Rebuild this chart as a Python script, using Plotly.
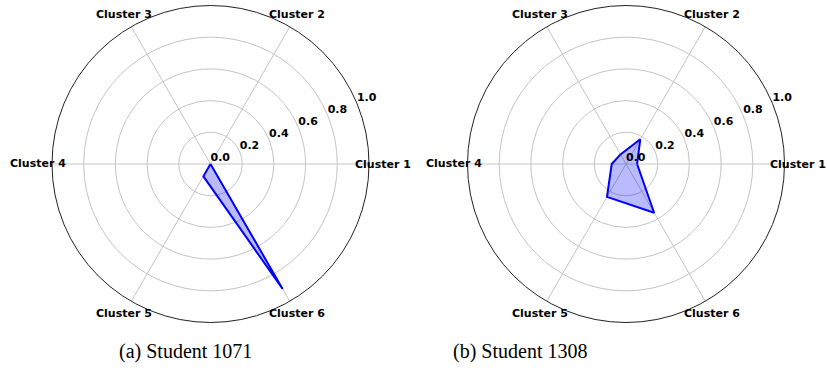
import math
import plotly.graph_objects as go

categories = ["Cluster 1", "Cluster 2", "Cluster 3", "Cluster 4", "Cluster 5", "Cluster 6"]
angles = [0, 60, 120, 180, 240, 300]
student_1071 = [0.0, 0.0, 0.0, 0.0, 0.09, 0.91]
student_1308 = [0.07, 0.18, 0.07, 0.09, 0.24, 0.355]
radial_ticks = [0.0, 0.2, 0.4, 0.6, 0.8, 1.0]
captions = ["(a) Student 1071", "(b) Student 1308"]

W, H = 827, 377
# polar areas in pixels: (x0, x1, y0_top, y1_bottom)
areas = [(52, 369, 5.5, 322.5), (467.5, 784.5, 5.5, 322.5)]
caption_x = [185, 520]
caption_y = 351
label_r = 1.088  # theta labels sit just outside the rim (in radial data units)

fig = go.Figure()
series = [student_1071, student_1308]
polars = ["polar", "polar2"]
annotations = []
for vals, pid, area in zip(series, polars, areas):
    fig.add_trace(go.Scatterpolar(
        r=vals + [vals[0]], theta=angles + [angles[0]],
        mode="lines", fill="toself",
        line=dict(color="#0000ff", width=2),
        fillcolor="rgba(0,0,255,0.27)",
        subplot=pid, showlegend=False, hoverinfo="skip"))
    fig.add_trace(go.Scatterpolar(
        r=radial_ticks, theta=[22.5] * len(radial_ticks),
        mode="text", text=["<b>%.1f</b>" % v for v in radial_ticks],
        textposition="top right",
        textfont=dict(family="DejaVu Sans", size=11, color="black"),
        cliponaxis=False, subplot=pid, showlegend=False, hoverinfo="skip"))
    x0, x1, y0, y1 = area
    cx, cy, R = (x0 + x1) / 2, (y0 + y1) / 2, (x1 - x0) / 2
    for cat, ang in zip(categories, angles):
        a = math.radians(ang)
        px = cx + label_r * R * math.cos(a)
        py = cy - label_r * R * math.sin(a)
        annotations.append(dict(
            text="<b>%s</b>" % cat, x=px / W, y=1 - py / H,
            xref="paper", yref="paper", xanchor="center", yanchor="middle",
            showarrow=False, font=dict(family="DejaVu Sans", size=11, color="black")))

def polar_layout(area):
    x0, x1, y0, y1 = area
    return dict(
        domain=dict(x=[x0 / W, x1 / W], y=[1 - y1 / H, 1 - y0 / H]),
        bgcolor="white",
        radialaxis=dict(range=[0, 1], tickvals=radial_ticks[1:], showticklabels=False,
                        ticks="", showline=False, gridcolor="#c4c4c4", gridwidth=1),
        angularaxis=dict(tickvals=angles, showticklabels=False, ticks="",
                         direction="counterclockwise", rotation=0,
                         gridcolor="#c4c4c4", gridwidth=1,
                         showline=True, linecolor="#222222", linewidth=1),
    )

for cap, x in zip(captions, caption_x):
    annotations.append(dict(
        text=cap, x=x / W, y=1 - caption_y / H, xref="paper", yref="paper",
        xanchor="center", yanchor="middle", showarrow=False,
        font=dict(family="Liberation Serif", size=20, color="black")))

fig.update_layout(
    width=W, height=H,
    margin=dict(l=0, r=0, t=0, b=0),
    paper_bgcolor="white",
    polar=polar_layout(areas[0]),
    polar2=polar_layout(areas[1]),
    annotations=annotations,
)

fig.write_html("out.html", config={"displayModeBar": False},
               post_script="document.body.style.margin='0px';")
